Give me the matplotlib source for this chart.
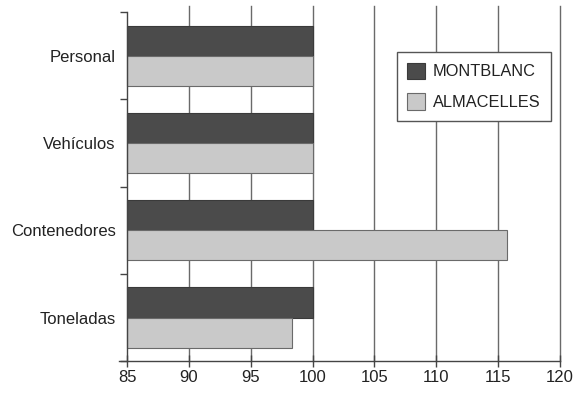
import numpy as np
import matplotlib.pyplot as plt

plt.rcParams['font.family'] = ['Liberation Sans', 'DejaVu Sans']
plt.rcParams['text.color'] = '#222222'
plt.rcParams['xtick.labelcolor'] = '#222222'
plt.rcParams['ytick.labelcolor'] = '#222222'

categorias = ['Personal', 'Vehículos', 'Contenedores', 'Toneladas']
montblanc = [100, 100, 100, 100]
almacelles = [100, 100, 115.7, 98.3]
x_ticks = [85, 90, 95, 100, 105, 110, 115, 120]

base = 85
h = 0.345
y = np.arange(len(categorias))[::-1]
top = len(categorias) - 0.5

fig = plt.figure(figsize=(5.74, 3.93), dpi=100)
ax = fig.add_axes([0.2073, 0.081, 0.7683, 0.904])

# spine position first: moving it resets the tick settings
for s in ['top', 'right']:
    ax.spines[s].set_visible(False)
for s in ['left', 'bottom']:
    ax.spines[s].set_color('#444444')
    ax.spines[s].set_linewidth(1)
ax.spines['left'].set_position(('data', base))
ax.spines['left'].set_bounds(-0.5, top)

# vertical grid runs a little above the end of the category axis
for xv in x_ticks[1:]:
    ax.axvline(xv, color='#6a6a6a', lw=1.0, zorder=0, clip_on=False)

ax.barh(y + h / 2, np.array(montblanc) - base, height=h, left=base,
        color='#4b4b4b', edgecolor='#3a3a3a', lw=0.8, label='MONTBLANC', zorder=2)
ax.barh(y - h / 2, np.array(almacelles) - base, height=h, left=base,
        color='#c9c9c9', edgecolor='#6a6a6a', lw=0.8, label='ALMACELLES', zorder=2)

ax.set_xlim(84.35, 120)
ax.set_ylim(-0.5, top + 0.07)
ax.set_xticks(x_ticks)
ax.tick_params(axis='x', direction='inout', length=8, width=1, color='#444444',
               labelsize=12, pad=2)

ax.set_yticks(np.arange(len(categorias) + 1) - 0.5)
ax.set_yticklabels([])
ax.tick_params(axis='y', which='major', direction='out', length=5, width=1, color='#444444')
ax.set_yticks(y, minor=True)
ax.set_yticklabels(categorias, minor=True, fontsize=12)
ax.tick_params(axis='y', which='minor', length=0, pad=8)

leg = ax.legend(loc='upper left', bbox_to_anchor=(0.630, 0.87), frameon=True,
                fancybox=False, edgecolor='#555555', framealpha=1, fontsize=11.8,
                handlelength=1.05, handleheight=1.15, labelspacing=0.85,
                borderpad=0.65, handletextpad=0.5, borderaxespad=0)
leg.get_frame().set_linewidth(1)

fig.savefig('out.png', dpi=100)
